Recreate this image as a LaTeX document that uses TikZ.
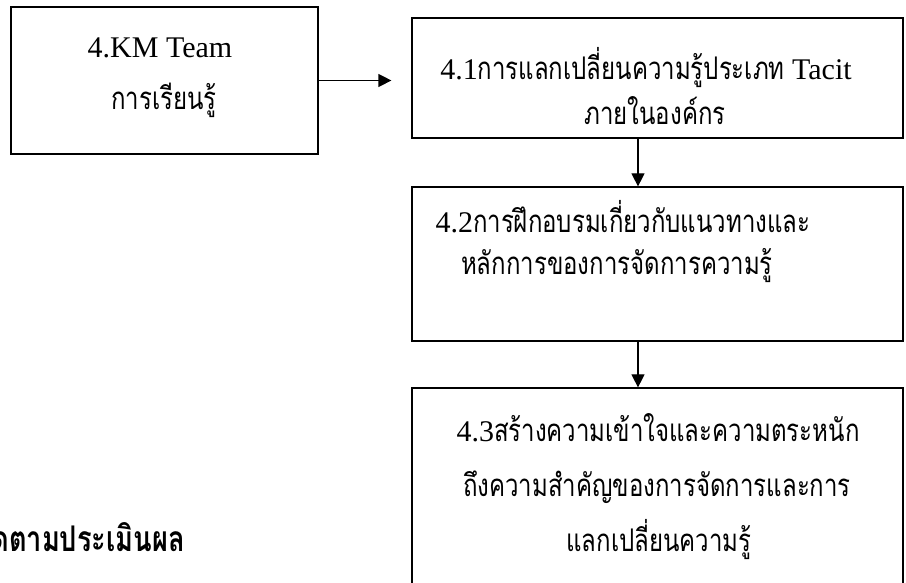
\documentclass[tikz,border=0pt]{standalone}
\usepackage{fontspec}
\setmainfont{Liberation Serif}
\newfontfamily\thaifont[Script=Thai,Scale=0.8]{Loma}
\usetikzlibrary{arrows.meta,positioning}

% Thai runs are drawn a bit taller, as in the original
\newcommand{\tht}[1]{\scalebox{1}[1.3]{\thaifont #1}}

\tikzset{
  box/.style={draw, line width=1.2pt, inner sep=0pt},
  txt/.style={anchor=base, inner sep=0pt, font=\fontsize{30}{36}\selectfont},
  arr/.style={line width=1.2pt, -{Triangle[length=13pt,width=13pt]}}
}

\begin{document}
\begin{tikzpicture}[x=1pt,y=1pt]
  \useasboundingbox (0,0) rectangle (906,583);

  % the boxes
  \node[box, minimum width=307pt, minimum height=147pt] (km) at (164.5,502.5) {};
  \node[box, minimum width=491pt, minimum height=120pt] (b1) at (657.5,505) {};
  \node[box, minimum width=491pt, minimum height=154pt] (b2) at (657.5,319) {};
  \node[box, minimum width=491pt, minimum height=240pt] (b3) at (657.5,75) {};

  % text of the boxes, line by line
  \node[txt] (km1) at (160,525) {4.KM Team};
  \node[txt] (km2) at (164,473) {\tht{การเรียนรู้}};

  \node[txt] (b1a) at (646,503) {4.1\tht{การแลกเปลี่ยนความรู้ประเภท} Tacit};
  \node[txt] (b1b) at (655,458) {\tht{ภายในองค์กร}};

  \node[txt] (b2a) at (623,350) {4.2\tht{การฝึกอบรมเกี่ยวกับแนวทางและ}};
  \node[txt] (b2b) at (617,308) {\tht{หลักการของการจัดการความรู้}};

  \node[txt] (b3a) at (658,141) {4.3\tht{สร้างความเข้าใจและความตระหนัก}};
  \node[txt] (b3b) at (657,86) {\tht{ถึงความสำคัญของการจัดการและการ}};
  \node[txt] (b3c) at (659,31) {\tht{แลกเปลี่ยนความรู้}};

  % heading cut at the left edge
  \node[txt, anchor=base east, font=\fontsize{34}{40}\selectfont\bfseries] (eval) at (185,31) {\tht{ดตามประเมินผล}};

  % arrows
  \draw[arr, shorten >=20pt] (km.east) -- (km.east -| b1.west);
  \draw[arr] ([xshift=-19.5pt]b1.south) -- ([xshift=-19.5pt]b2.north);
  \draw[arr] ([xshift=-19.5pt]b2.south) -- ([xshift=-19.5pt]b3.north);
\end{tikzpicture}
\end{document}
